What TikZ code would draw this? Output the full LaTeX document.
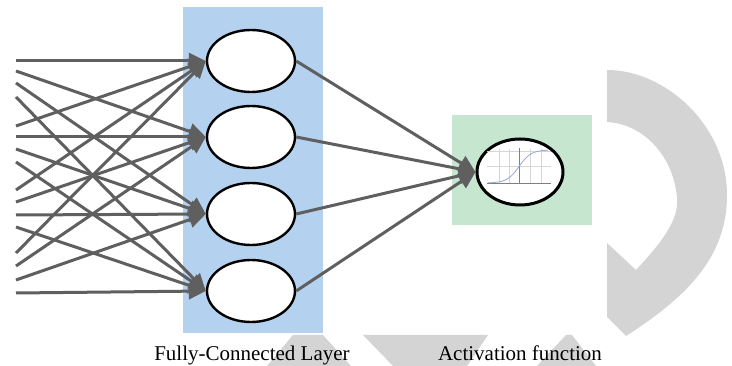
\documentclass[tikz,border=0pt]{standalone}
\usepackage{fontspec}
\setmainfont{Liberation Serif}
\usetikzlibrary{arrows.meta,shapes.geometric}
\definecolor{layerblue}{HTML}{B4D2EF}
\definecolor{actgreen}{HTML}{C6E6CF}
\definecolor{wire}{HTML}{5F5F5F}
\definecolor{wmgray}{HTML}{D4D4D4}
\definecolor{gridgray}{HTML}{D6D6D6}
\definecolor{curveblue}{HTML}{9AA6DC}
\begin{document}
\begin{tikzpicture}[x=1pt,y=-1pt,
  neuron/.style={ellipse,draw=black,line width=2.4pt,fill=white,
    minimum width=88pt,minimum height=62pt,inner sep=0pt},
  panel/.style={inner sep=0pt,outer sep=0pt},
  wirearrow/.style={draw=wire,line width=3pt,
    -{Triangle[length=17pt,width=16pt]}},
  caption/.style={font=\fontsize{21}{25}\selectfont,anchor=base,inner sep=0pt},
  gridline/.style={draw=gridgray,line width=0.5pt},
  axisline/.style={draw=gray,line width=0.6pt}]

\useasboundingbox (0,0) rectangle (732,366);
\fill[white] (0,0) rectangle (732,366);

% light grey background marks
\fill[wmgray] (607,70) .. controls (665,70) and (727,125) .. (727,195)
  .. controls (727,255) and (690,295) .. (626,336) -- (607,317) -- (607,243)
  -- (636,270) .. controls (662,242) and (679,220) .. (677,198)
  .. controls (674,158) and (645,124) .. (607,122) -- cycle;
\fill[wmgray] (267,366) -- (293,335) -- (323,335) -- (351,366) -- cycle;
\fill[wmgray] (363,335) -- (488,335) -- (467,366) -- (393,366) -- cycle;
\fill[wmgray] (537,366) -- (566,335) -- (572,335) -- (596,366) -- cycle;

% layer panels
\node[panel,fill=layerblue,minimum width=140pt,minimum height=326pt] (fc) at (253,170) {};
\node[panel,fill=actgreen,minimum width=140pt,minimum height=110pt] (actbox) at (522,170) {};

% fully-connected neurons
\node[neuron] (e1) at (251,61) {};
\node[neuron] (e2) at (251,137) {};
\node[neuron] (e3) at (251,214) {};
\node[neuron] (e4) at (251,291) {};

% activation neuron with a small sigmoid plot
\node[neuron,line width=3pt,minimum width=86pt,minimum height=66pt] (act) at (520,172) {};
\foreach \gx in {499,509,530,541} \draw[gridline] (\gx,149) -- (\gx,184);
\foreach \gy in {151,166} \draw[gridline] (487,\gy) -- (551,\gy);
\draw[axisline] (519,148) -- (519,184);
\draw[axisline] (487,183) -- (551,183);
\draw[curveblue,line width=0.8pt] plot[domain=488:548,samples=50]
  (\x,{183-33/(1+exp(-(\x-519)/6))});

% input wires entering from the left edge
\foreach \n/\yy in {a1/61,a2/71,a3/83,a4/97,
                    b1/126,b2/137,b3/149,b4/162,
                    c1/190,c2/202,c3/215,c4/227,
                    d1/253,d2/266,d3/280,d4/293}
  \coordinate (in\n) at (16,\yy);
\foreach \g in {a,b,c,d}
  \foreach \k in {1,2,3,4}
    \draw[wirearrow] (in\g\k) -- (e\k.west);

% wires into the activation neuron
\foreach \k in {1,2,3,4}
  \draw[wirearrow] (e\k.east) -- (act.west);

% captions
\node[caption] (fclabel) at (252,361) {Fully-Connected Layer};
\node[caption] (actlabel) at (520,361) {Activation function};
\end{tikzpicture}
\end{document}
